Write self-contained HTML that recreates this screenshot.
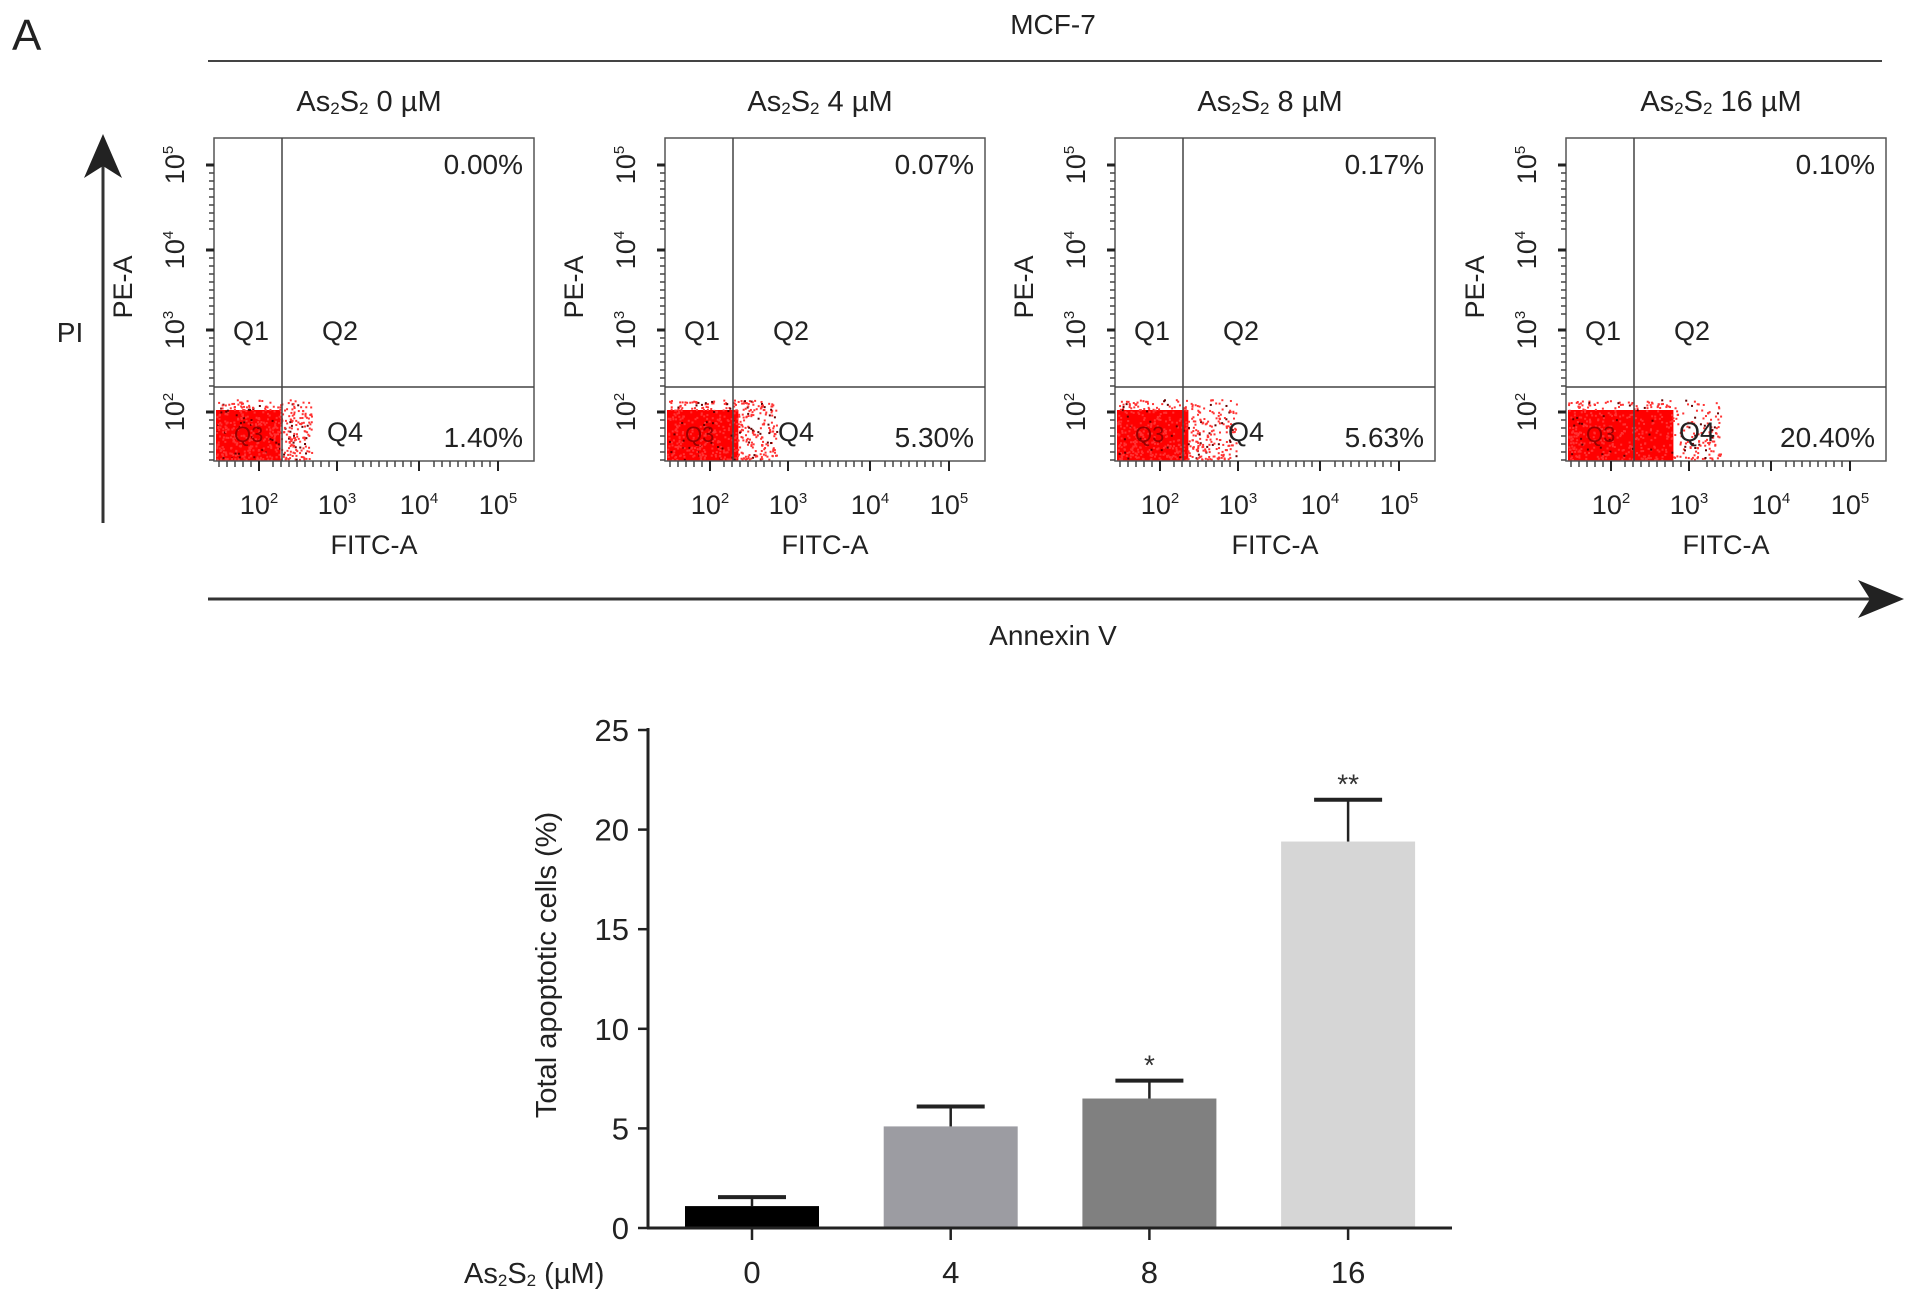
<!DOCTYPE html>
<html><head><meta charset="utf-8">
<style>
html,body{margin:0;padding:0;background:#fff;}
svg{display:block;font-family:"Liberation Sans",sans-serif;}
</style></head>
<body>
<svg id="fig" width="1913" height="1301" viewBox="0 0 1913 1301" xmlns="http://www.w3.org/2000/svg">
<text x="12" y="50" font-size="44" fill="#222">A</text>
<text x="1053" y="34" font-size="28" text-anchor="middle" fill="#222">MCF-7</text>
<line x1="208" y1="61" x2="1882" y2="61" stroke="#444" stroke-width="2"/>
<g>
<line x1="103" y1="160" x2="103" y2="523" stroke="#333" stroke-width="3"/>
<polygon points="103,134 84,178 103,166 122,178" fill="#222"/>
</g>
<text x="70" y="342" font-size="28" text-anchor="middle" fill="#222">PI</text>
<g>
<line x1="208" y1="599" x2="1880" y2="599" stroke="#333" stroke-width="3"/>
<polygon points="1904,599 1858,580 1870,599 1858,618" fill="#222"/>
</g>
<text x="1053" y="645" font-size="28" text-anchor="middle" fill="#222">Annexin V</text>
<g id="flow"></g>
<g id="bars"></g>
</svg>
<script>
// ---- flow cytometry panels ----
const doses = ["0","4","8","16"];
const q2Pct = ["0.00%","0.07%","0.17%","0.10%"];
const q4Pct = ["1.40%","5.30%","5.63%","20.40%"];
const spread = [1.0, 1.15, 1.25, 1.6];
const NS="http://www.w3.org/2000/svg";
function mk(tag,attrs,parent){const e=document.createElementNS(NS,tag);for(const k in attrs)e.setAttribute(k,attrs[k]);if(parent)parent.appendChild(e);return e;}
const flow=document.getElementById('flow');
const lefts=[214,665,1115,1566];
const top0=138,bot=461,W=320,gateX=68,gateY=387;
let seed=12345;function rnd(){seed=(seed*1103515245+12345)%2147483648;return seed/2147483648;}
doses.forEach((d,i)=>{
  const L=lefts[i];
  const g=mk('g',{},flow);
  
  
  const t=mk('text',{x:L+155,y:111,'font-size':29,'text-anchor':'middle',fill:'#222'},g);
  t.innerHTML='As<tspan font-size="17" dy="3">2</tspan><tspan dy="-3">S</tspan><tspan font-size="17" dy="3">2</tspan><tspan dy="-3">  '+d+' µM</tspan>';
  
  
  const sc=mk('g',{},g);
  
  
  const s=spread[i];
  const coreW=gateX*(i===3?1.55:(i===0?0.95:1.05));
  mk('rect',{x:L+2,y:410,width:coreW,height:bot-410,fill:'#f00'},sc);
  for(let k=0;k<500;k++){
    const x=L+2+Math.pow(rnd(),1.1)*gateX*1.4*s;
    const y=bot-2-Math.pow(rnd(),1.2)*60;
    if(x>L+W-2)continue;
    mk('rect',{x:x,y:y,width:2,height:2,fill:rnd()<0.1?'#600':'#f33'},sc);
  }
  const box=mk('rect',{x:L,y:top0,width:W,height:bot-top0,fill:'none',stroke:'#555','stroke-width':1.5},g);
  
  
  mk('line',{x1:L+gateX,y1:top0,x2:L+gateX,y2:bot,stroke:'#444','stroke-width':1.5},g);
  mk('line',{x1:L,y1:gateY,x2:L+W,y2:gateY,stroke:'#444','stroke-width':1.5},g);
  const yt=[[165,'5'],[250,'4'],[330,'3'],[412,'2']];
  yt.forEach(([y,e])=>{
    mk('line',{x1:L-8,y1:y,x2:L,y2:y,stroke:'#222','stroke-width':3},g);
    for(let m=1;m<9;m++){const yy=y+m*8;if(yy<bot&&yy>top0)mk('line',{x1:L-5,y1:yy,x2:L,y2:yy,stroke:'#444','stroke-width':1.5},g);}
    const tl=mk('text',{transform:`translate(${L-30},${y}) rotate(-90)`,'font-size':27,'text-anchor':'middle',fill:'#222'},g);
    tl.innerHTML='10<tspan font-size="15" dy="-11">'+e+'</tspan>';
  });
  const pe=mk('text',{transform:`translate(${L-82},${287}) rotate(-90)`,'font-size':27,'text-anchor':'middle',fill:'#222'},g);
  pe.textContent='PE-A';
  
  
  const xt=[[45,'2'],[123,'3'],[205,'4'],[284,'5']];
  xt.forEach(([x,e])=>{
    mk('line',{x1:L+x,y1:bot,x2:L+x,y2:bot+10,stroke:'#222','stroke-width':2},g);
    for(let m=1;m<9;m++){const xx=L+x-m*8;if(xx>L)mk('line',{x1:xx,y1:bot,x2:xx,y2:bot+6,stroke:'#444','stroke-width':1.5},g);}
    const tl=mk('text',{x:L+x,y:514,'font-size':27,'text-anchor':'middle',fill:'#222'},g);
    tl.innerHTML='10<tspan font-size="15" dy="-11">'+e+'</tspan>';
  });
  const fx=mk('text',{x:L+160,y:554,'font-size':27,'text-anchor':'middle',fill:'#222'},g);
  fx.textContent='FITC-A';
  
  
  [['Q1',L+37,340],['Q2',L+126,340],['Q4',L+131,441]].forEach(([q,x,y])=>{
    const qt=mk('text',{x:x,y:y,'font-size':27,'text-anchor':'middle',fill:'#222'},g);qt.textContent=q;
  });
  mk('text',{x:L+20,y:442,'font-size':22,fill:'#900'},g).textContent='Q3';
  const p2=mk('text',{x:L+309,y:174,'font-size':28,'text-anchor':'end',fill:'#222'},g);p2.textContent=q2Pct[i];
  
  
  const p4=mk('text',{x:L+309,y:447,'font-size':28,'text-anchor':'end',fill:'#222'},g);p4.textContent=q4Pct[i];
  
  
});

// ---- bar chart ----
const categories = ["0","4","8","16"];
const values = [1.1, 5.1, 6.5, 19.4];
const errors = [0.45, 1.0, 0.9, 2.1];
const stars = ["","","*","**"];
const yTicks = [0,5,10,15,20,25];
const barColors = ["#000000","#9c9ca2","#808080","#d6d6d6"];
const bars=document.getElementById('bars');
const X0=648,Y0=1228,Y25=730,XEND=1452;
const yS=v=>Y0-(v/25)*(Y0-Y25);
const xS=i=>752+i*198.7;
const bw=134;
categories.forEach((c,i)=>{
  const cx=xS(i);
  const b=mk('rect',{x:cx-bw/2,y:yS(values[i]),width:bw,height:Y0-yS(values[i]),fill:barColors[i]},bars);
  
  
  const e=mk('g',{},bars);
  
  
  mk('line',{x1:cx,y1:yS(values[i]),x2:cx,y2:yS(values[i]+errors[i]),stroke:'#222','stroke-width':2.5},e);
  mk('line',{x1:cx-34,y1:yS(values[i]+errors[i]),x2:cx+34,y2:yS(values[i]+errors[i]),stroke:'#222','stroke-width':4},e);
  if(stars[i]){const s=mk('text',{x:cx,y:yS(values[i]+errors[i])-6,'font-size':28,'text-anchor':'middle',fill:'#333'},bars);s.textContent=stars[i];
    
    }
  mk('line',{x1:cx,y1:Y0,x2:cx,y2:Y0+12,stroke:'#222','stroke-width':2.5},bars);
  const l=mk('text',{x:cx,y:1283,'font-size':31,'text-anchor':'middle',fill:'#222'},bars);l.textContent=c;
  
  
});
const ax=mk('g',{},bars);


mk('line',{x1:X0,y1:Y25-2,x2:X0,y2:Y0+1,stroke:'#222','stroke-width':3},ax);
mk('line',{x1:X0-1,y1:Y0,x2:XEND,y2:Y0,stroke:'#222','stroke-width':3},ax);
yTicks.forEach(v=>{
  mk('line',{x1:X0-10,y1:yS(v),x2:X0,y2:yS(v),stroke:'#222','stroke-width':2.5},ax);
  const t=mk('text',{x:629,y:yS(v)+11,'font-size':31,'text-anchor':'end',fill:'#222'},ax);t.textContent=v;
  
  
});
const yt=mk('text',{transform:'translate(556,965) rotate(-90)','font-size':29,'text-anchor':'middle',fill:'#222'},bars);
yt.textContent='Total apoptotic cells (%)';


const xl=mk('text',{x:464,y:1283,'font-size':29,fill:'#222'},bars);
xl.innerHTML='As<tspan font-size="17" dy="3">2</tspan><tspan dy="-3">S</tspan><tspan font-size="17" dy="3">2</tspan><tspan dy="-3"> (µM)</tspan>';


</script>
</body></html>
